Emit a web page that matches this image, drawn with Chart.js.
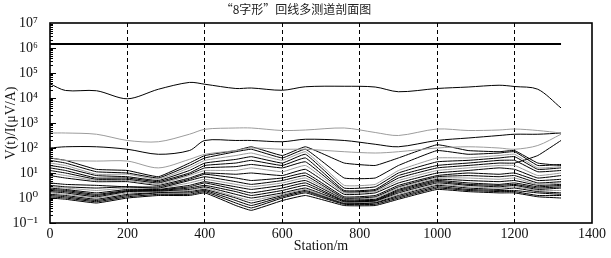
<!DOCTYPE html>
<html>
<head>
<meta charset="utf-8">
<script src="https://cdn.jsdelivr.net/npm/chart.js@4"></script>
<style>
  body { margin: 0; background: #fff; }
</style>
</head>
<body>
<canvas id="myChart" width="611" height="258"></canvas>
<script>
  // stations along the profile (m)
  let stations = [0, 40, 120, 200, 280, 360, 400, 480, 520, 600, 660, 760, 840, 900, 1000, 1080, 1160, 1200, 1260, 1320]

  // channel responses V(t)/I in uV/A, early channels first
  let ch01 = [1450000, 1450000, 1450000, 1450000, 1450000, 1450000, 1450000, 1450000, 1450000, 1450000, 1450000, 1450000, 1450000, 1450000, 1450000, 1450000, 1450000, 1450000, 1450000, 1450000]
  let ch02 = [37000, 20000, 19500, 9300, 22400, 42000, 35500, 24000, 25100, 20400, 28200, 29500, 27500, 17800, 24000, 27500, 32400, 28800, 22400, 4000]
  let ch03 = [398, 398, 355, 200, 178, 355, 562, 631, 631, 501, 525, 631, 417, 316, 575, 501, 525, 575, 501, 398]
  let ch04 = [100, 112, 112, 89, 56, 79, 200, 200, 200, 178, 224, 200, 141, 112, 200, 251, 316, 355, 355, 398]
  let ch05 = [40, 32, 30, 30, 16, 35, 56, 79, 100, 89, 89, 71, 63, 71, 100, 112, 100, 89, 126, 355]
  let ch06 = [40, 32, 14, 12.6, 7.1, 25, 50, 79, 112, 50, 112, 25, 20, 40, 135, 79, 71, 79, 25, 20]
  let ch07 = [32, 25, 11.2, 10, 6.3, 20, 40, 71, 89, 40, 89, 6.3, 6.3, 20, 79, 56, 63, 71, 20, 22]
  let ch08 = [25, 20, 8.9, 8.9, 5.6, 16, 32, 50, 63, 32, 71, 3.2, 3.5, 12.6, 40, 40, 50, 56, 16, 18]
  let ch09 = [20, 16, 7.9, 7.1, 5.0, 12.6, 25, 35, 45, 25, 56, 2.5, 2.8, 10, 28, 32, 40, 45, 14, 16]
  let ch10 = [16, 12.6, 6.3, 6.3, 4.5, 10, 20, 25, 32, 20, 40, 2.0, 2.2, 7.9, 20, 25, 32, 32, 11.2, 12.6]
  let ch11 = [12.6, 10, 5.6, 5.6, 4.0, 8.9, 16, 18, 22, 16, 28, 1.8, 2.0, 6.3, 16, 20, 25, 25, 50, 200]
  let ch12 = [10, 7.9, 5.0, 5.0, 3.5, 7.9, 12.6, 12.6, 16, 11.2, 20, 1.6, 1.8, 5.0, 12.6, 16, 20, 20, 7.9, 10]
  let ch13 = [7.9, 6.3, 4.5, 4.5, 3.2, 6.3, 10, 8.9, 10, 7.9, 14, 1.4, 1.6, 4.0, 10, 12.6, 16, 14, 6.3, 7.9]
  let ch14 = [4.0, 3.5, 3.2, 2.8, 2.8, 5.6, 8.9, 6.3, 5.0, 6.3, 10, 1.12, 1.26, 3.2, 7.9, 10, 8.9, 10, 5.0, 5.6]
  let ch15 = [3.2, 2.8, 2.5, 2.8, 2.5, 5.0, 7.1, 4.5, 3.5, 5.0, 7.9, 1.0, 1.12, 2.8, 7.1, 7.9, 7.1, 7.9, 4.0, 4.5]
  let ch16 = [2.8, 2.5, 2.0, 2.5, 2.4, 4.0, 5.6, 3.5, 2.8, 4.0, 6.3, 0.95, 1.0, 2.5, 6.3, 6.3, 5.6, 6.3, 3.5, 4.0]
  let ch17 = [2.5, 2.2, 1.6, 2.2, 2.2, 3.2, 4.5, 2.8, 2.2, 3.2, 5.0, 0.89, 0.89, 2.2, 5.6, 5.0, 4.5, 5.0, 3.2, 3.5]
  let ch18 = [2.2, 2.0, 1.4, 2.0, 2.1, 2.8, 4.0, 2.2, 1.6, 2.5, 4.0, 0.79, 0.83, 2.0, 5.0, 4.0, 3.5, 4.0, 2.8, 3.2]
  let ch19 = [2.0, 1.8, 1.26, 1.9, 2.0, 2.5, 3.2, 1.8, 1.26, 2.0, 3.2, 0.76, 0.79, 1.8, 4.5, 3.5, 3.2, 3.5, 2.5, 2.8]
  let ch20 = [1.8, 1.6, 1.12, 1.8, 1.9, 2.2, 2.8, 1.4, 1.0, 1.6, 2.5, 0.71, 0.76, 1.6, 4.0, 3.2, 2.8, 3.2, 2.2, 2.5]
  let ch21 = [1.6, 1.4, 1.0, 1.6, 1.8, 2.0, 2.5, 1.12, 0.79, 1.4, 2.2, 0.66, 0.71, 1.4, 3.5, 2.8, 2.5, 2.8, 2.0, 2.0]
  let ch22 = [1.4, 1.26, 0.89, 1.4, 1.66, 1.8, 2.2, 1.0, 0.63, 1.26, 2.0, 0.63, 0.66, 1.26, 3.2, 2.5, 2.2, 2.5, 1.8, 1.6]
  let ch23 = [1.26, 1.12, 0.79, 1.26, 1.6, 1.6, 2.0, 0.79, 0.5, 1.12, 1.8, 0.6, 0.63, 1.12, 2.8, 2.2, 2.0, 2.0, 1.6, 1.4]
  let ch24 = [1.12, 1.0, 0.71, 1.12, 1.4, 1.4, 1.8, 0.63, 0.4, 1.0, 1.6, 0.56, 0.56, 1.0, 2.5, 2.0, 1.8, 1.8, 1.26, 1.26]
  let ch25 = [1.0, 0.89, 0.63, 1.0, 1.26, 1.26, 1.6, 0.5, 0.32, 0.79, 1.26, 0.5, 0.5, 0.89, 2.2, 1.8, 1.6, 1.6, 1.12, 1.0]

  let channels = [ch01, ch02, ch03, ch04, ch05, ch06, ch07, ch08, ch09, ch10, ch11, ch12, ch13,
                  ch14, ch15, ch16, ch17, ch18, ch19, ch20, ch21, ch22, ch23, ch24, ch25]
  let grayChannels = [3, 5, 8, 12, 16, 21]   // channels drawn in light grey (1-based)

  let yTickExps = [-1, 0, 1, 2, 3, 4, 5, 6, 7]
  let xTicks = [0, 200, 400, 600, 800, 1000, 1200, 1400]

  const sup = { '-': '\u207B', '0': '\u2070', '1': '\u00B9', '2': '\u00B2', '3': '\u00B3', '4': '\u2074',
                '5': '\u2075', '6': '\u2076', '7': '\u2077', '8': '\u2078', '9': '\u2079' }

  // minor ticks on the left axis + frame
  const frame = {
    id: 'frame',
    afterDraw(chart) {
      const ctx = chart.ctx
      const a = chart.chartArea
      const y = chart.scales.y
      ctx.save()
      ctx.strokeStyle = '#000'
      ctx.lineWidth = 1
      for (let e = -1; e <= 6; e++) {
        for (let m = 1; m <= 9; m++) {
          const py = Math.round(y.getPixelForValue(m * Math.pow(10, e))) + 0.5
          const len = m === 1 ? 6 : 3
          ctx.beginPath()
          ctx.moveTo(a.left, py)
          ctx.lineTo(a.left + len, py)
          ctx.stroke()
        }
      }
      ctx.lineWidth = 1.6
      ctx.strokeRect(a.left, a.top, a.right - a.left, a.bottom - a.top)
      ctx.restore()
    }
  }

  let ctx = document.getElementById('myChart')

  new Chart(ctx, {
    type: 'line',
    data: {
      datasets: channels.map((vals, i) => ({
        label: 'ch' + (i + 1),
        data: vals.map((v, j) => ({ x: stations[j], y: v })),
        borderColor: grayChannels.includes(i + 1) ? '#9c9c9c' : '#000',
        borderWidth: i === 0 ? 2 : 1,
        pointRadius: 0,
        tension: i < 5 ? 0.3 : 0.1,
        fill: false
      }))
    },
    options: {
      responsive: false,
      animation: false,
      layout: { padding: { left: 0, right: 19, top: 0, bottom: 0 } },
      plugins: {
        legend: { display: false },
        tooltip: { enabled: false },
        title: {
          display: true,
          text: '\u201C8字形\u201D回线多测道剖面图',
          color: '#222',
          font: { family: '"Noto Sans CJK SC", sans-serif', size: 12, weight: 'normal' },
          padding: { top: 2, bottom: 6.6 }
        }
      },
      scales: {
        x: {
          type: 'linear',
          min: 0,
          max: 1400,
          afterBuildTicks: (scale) => { scale.ticks = xTicks.map(v => ({ value: v })) },
          afterFit: (scale) => { scale.height = 35 },
          grid: {
            color: (c) => (c.tick && (c.tick.value === 0 || c.tick.value === 1400)) ? 'rgba(0,0,0,0)' : '#000',
            lineWidth: 1,
            drawTicks: false
          },
          border: { display: false, dash: [4, 3] },
          ticks: {
            color: '#111',
            padding: 3,
            maxRotation: 0,
            font: { family: '"Liberation Serif", "DejaVu Serif", serif', size: 14 },
            callback: (value) => String(value)
          },
          title: {
            display: true,
            text: 'Station/m',
            color: '#111',
            font: { family: '"Liberation Serif", "DejaVu Serif", serif', size: 14 },
            padding: { top: 0, bottom: 3 }
          }
        },
        y: {
          type: 'logarithmic',
          min: 0.1,
          max: 1e7,
          afterBuildTicks: (scale) => { scale.ticks = yTickExps.map(e => ({ value: Math.pow(10, e) })) },
          afterFit: (scale) => { scale.width = 50 },
          grid: { display: false },
          border: { display: false },
          ticks: {
            color: '#111',
            padding: 4,
            font: { family: '"Liberation Serif", "DejaVu Serif", serif', size: 14 },
            callback: (value) => {
              const e = String(Math.round(Math.log10(value)))
              return '10' + e.split('').map(c => sup[c]).join('')
            }
          },
          title: {
            display: true,
            text: 'V(t)/I(\u03BCV/A)',
            color: '#111',
            font: { family: '"Liberation Serif", "DejaVu Serif", serif', size: 14 },
            padding: { top: 3, bottom: 0 }
          }
        }
      }
    },
    plugins: [frame]
  })
</script>
</body>
</html>
